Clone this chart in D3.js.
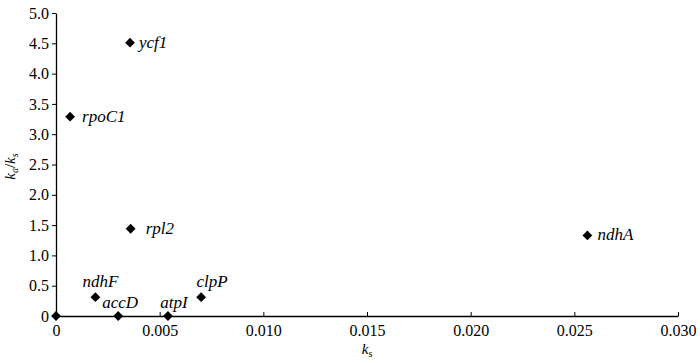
<!DOCTYPE html>
<html>
<head>
<meta charset="utf-8">
<script src="https://cdn.jsdelivr.net/npm/d3@7"></script>
<style>
  body { margin: 0; background: #fff; }
</style>
</head>
<body>
<div id="chart"></div>
<script>
// gene names, ks and ka/ks values
const genes = ["ycf1", "rpoC1", "rpl2", "ndhF", "accD", "atpI", "clpP", "ndhA", ""];
const ksValues = [0.00357, 0.00068, 0.0036, 0.0019, 0.0030, 0.0054, 0.0070, 0.02563, 0];
const kaksValues = [4.51, 3.29, 1.44, 0.31, 0, 0, 0.31, 1.33, 0];
const xTicks = [0, 0.005, 0.010, 0.015, 0.020, 0.025, 0.030];
const yTicks = [0, 0.5, 1.0, 1.5, 2.0, 2.5, 3.0, 3.5, 4.0, 4.5, 5.0];

// label placement relative to the marker
const labelOffsets = [
  {dx: 9, dy: 5, anchor: "start"},
  {dx: 12, dy: 5, anchor: "start"},
  {dx: 15, dy: 5, anchor: "start"},
  {dx: 5, dy: -10, anchor: "middle"},
  {dx: -16, dy: -8, anchor: "start"},
  {dx: 6, dy: -8, anchor: "middle"},
  {dx: 11, dy: -10, anchor: "middle"},
  {dx: 10, dy: 5, anchor: "start"},
  {dx: 0, dy: 0, anchor: "start"}
];

const FONT = "Liberation Serif";
const width = 700, height = 363;
const margin = {top: 13, right: 22, bottom: 47, left: 56};
const w = width - margin.left - margin.right,
      h = height - margin.top - margin.bottom;

let svg = d3.select("#chart")
  .append("svg")
  .attr("width", width)
  .attr("height", height)
  .attr("font-family", FONT)
  .append("g")
  .attr("transform", "translate(" + margin.left + "," + margin.top + ")");

let x = d3.scaleLinear().domain([0, 0.030]).range([0, w]);
let y = d3.scaleLinear().domain([0, 5.0]).range([h, 0]);

// X axis, ticks pointing up
let xAxis = svg.append("g")
  .attr("transform", "translate(0," + h + ")")
  .call(d3.axisBottom(x).tickValues(xTicks).tickSizeInner(-4).tickSizeOuter(0).tickPadding(9)
    .tickFormat(d => d === 0 ? "0" : d3.format(".3f")(d)));

// Y axis, ticks pointing left
let yAxis = svg.append("g")
  .call(d3.axisLeft(y).tickValues(yTicks).tickSize(4).tickSizeOuter(0).tickPadding(3)
    .tickFormat(d => d === 0 ? "0" : d3.format(".1f")(d)));

[xAxis, yAxis].forEach(a => {
  a.attr("font-family", FONT).attr("font-size", 16);
  a.select(".domain").attr("stroke", "#000").attr("stroke-width", 1.3);
  a.selectAll(".tick line").attr("stroke", "#000");
  a.selectAll(".tick text").attr("fill", "#000");
});

// markers
let pts = genes.map((g, i) => ({name: g, ks: ksValues[i], kaks: kaksValues[i], off: labelOffsets[i]}));

svg.selectAll(".pt")
  .data(pts)
  .enter()
  .append("path")
  .attr("d", d3.symbol().type(d3.symbolSquare).size(48))
  .attr("transform", d => "translate(" + x(d.ks) + "," + y(d.kaks) + ") rotate(45)")
  .attr("fill", "#000");

svg.selectAll(".lbl")
  .data(pts)
  .enter()
  .append("text")
  .attr("x", d => x(d.ks) + d.off.dx)
  .attr("y", d => y(d.kaks) + d.off.dy)
  .attr("text-anchor", d => d.off.anchor)
  .attr("font-family", FONT)
  .attr("font-style", "italic")
  .attr("font-size", 17)
  .text(d => d.name);

// axis titles
let xt = svg.append("text")
  .attr("x", w / 2)
  .attr("y", h + 38)
  .attr("text-anchor", "middle")
  .attr("font-family", FONT)
  .attr("font-size", 15);
xt.append("tspan").attr("font-style", "italic").text("k");
xt.append("tspan").attr("dy", 3).attr("font-size", 10).text("s");

let yt = svg.append("text")
  .attr("transform", "translate(" + (-41) + "," + (h / 2 + 2) + ") rotate(-90)")
  .attr("text-anchor", "middle")
  .attr("font-family", FONT)
  .attr("font-size", 15);
yt.append("tspan").attr("font-style", "italic").text("k");
yt.append("tspan").attr("dy", 3).attr("font-size", 10).attr("font-style", "italic").text("a");
yt.append("tspan").attr("dy", -3).text("/");
yt.append("tspan").attr("font-style", "italic").text("k");
yt.append("tspan").attr("dy", 3).attr("font-size", 10).attr("font-style", "italic").text("s");
</script>
</body>
</html>
